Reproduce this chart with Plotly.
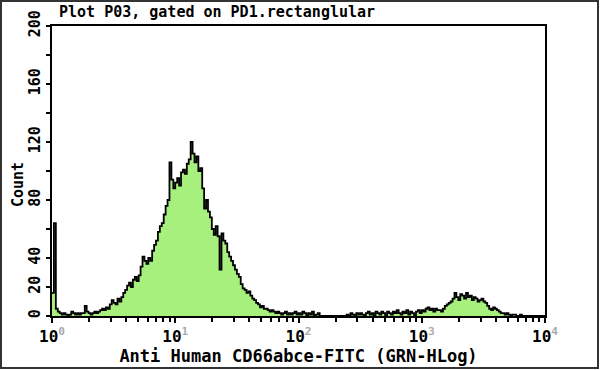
import plotly.graph_objects as go

# 256 log channels over 4 decades (10^0 .. 10^4)
counts = [
    16, 64, 5, 3, 2, 1, 2, 1, 0, 1, 3, 2, 1, 2, 1, 2,
    2, 7, 3, 2, 1, 2, 3, 2, 3, 4, 5, 4, 6, 5, 8, 11,
    9, 8, 12, 10, 13, 16, 18, 21, 23, 20, 25, 27, 24, 28, 34, 41,
    38, 36, 40, 38, 45, 49, 52, 58, 62, 64, 70, 76, 80, 106, 94, 88,
    92, 95, 90, 99, 101, 98, 105, 108, 120, 112, 106, 110, 100, 102, 88, 74,
    80, 72, 68, 60, 56, 62, 55, 32, 57, 52, 50, 44, 41, 38, 35, 32,
    29, 27, 22, 19, 18, 16, 17, 14, 12, 11, 9, 8, 6, 7, 5, 5,
    4, 3, 4, 3, 2, 3, 2, 1, 2, 3, 1, 2, 1, 2, 3, 1,
    2, 1, 3, 2, 0, 2, 1, 3, 0, 1, 2, 0, 0, 0, 0, 0,
    0, 0, 0, 0, 0, 0, 0, 0, 0, 1, 0, 2, 1, 0, 2, 1,
    2, 1, 0, 2, 3, 1, 2, 0, 3, 2, 1, 3, 2, 0, 3, 2,
    1, 3, 2, 4, 2, 1, 3, 2, 4, 1, 3, 2, 0, 3, 4, 2,
    4, 3, 5, 6, 4, 5, 3, 5, 4, 4, 3, 5, 7, 8, 9, 10,
    12, 16, 13, 11, 15, 14, 12, 16, 13, 14, 11, 13, 12, 10, 11, 12,
    10, 9, 7, 5, 4, 6, 5, 4, 3, 2, 2, 1, 2, 1, 0, 1,
    1, 0, 0, 1, 0, 0, 0, 0, 0, 0, 0, 0, 0, 0, 0, 0,
]
n_channels = len(counts)
decades = 4

x_tickvals = [1, 10, 100, 1000, 10000]
x_ticktext = ["10<sup><span style='color:#aaa'>%d</span></sup>" % k for k in range(5)]
y_tickvals = [0, 20, 40, 80, 120, 160, 200]
y_ticktext = ["0", "20", "40", "80", "120", "160", "200"]
y_minor_vals = [60, 100, 140, 180]

title_text = "Plot P03, gated on PD1.rectanglular"
x_title = "Anti Human CD66abce-FITC (GRN-HLog)"
y_title = "Count"

# bin edges on the log scale
edges = [10 ** (decades * i / n_channels) for i in range(n_channels + 1)]
xs = edges
ys = counts + [counts[-1]]

# minor log ticks
minor_vals = []
for k in range(4):
    for m in range(2, 10):
        minor_vals.append(m * 10 ** k)

fig = go.Figure()
fig.add_trace(go.Scatter(
    x=xs, y=ys, mode="lines", line_shape="hv",
    line=dict(color="black", width=1.8),
    fill="tozeroy", fillcolor="#a8f07e",
    hoverinfo="skip", showlegend=False,
))

W, H = 600, 370
L, R, T, B = 52, 55, 26, 54
pw, ph = W - L - R, H - T - B

font = "DejaVu Sans Mono"
fig.update_layout(
    width=W, height=H,
    margin=dict(l=L, r=R, t=T, b=B, pad=0, autoexpand=False),
    paper_bgcolor="white", plot_bgcolor="white",
    font=dict(family=font, color="black", size=14, weight="bold"),
    annotations=[
        dict(text=title_text, x=(57 - L) / pw, y=1 + (T - 12) / ph,
             xref="paper", yref="paper", xanchor="left", yanchor="middle",
             showarrow=False, font=dict(size=15, family=font, color="black", weight="bold")),
        dict(text=y_title, x=(18 - L) / pw, y=(H - B - 185) / ph,
             xref="paper", yref="paper", xanchor="center", yanchor="middle",
             textangle=-90, showarrow=False,
             font=dict(size=15, family=font, color="black", weight="bold")),
    ],
    shapes=[
        dict(type="rect", xref="paper", yref="paper",
             x0=(1 - L) / pw, x1=(W - 2 - L) / pw,
             y0=-(B - 2) / ph, y1=1 + (T - 1) / ph,
             line=dict(color="#333", width=2), layer="below"),
    ],
)

fig.update_xaxes(
    type="log", range=[0, 4], automargin=False,
    tickvals=x_tickvals, ticktext=x_ticktext,
    ticks="outside", ticklen=5, tickwidth=1.5, tickcolor="black",
    minor=dict(tickvals=minor_vals, ticks="outside", ticklen=4, tickwidth=1.5, tickcolor="black"),
    showline=True, linewidth=2, linecolor="black", mirror=True,
    showgrid=False, zeroline=False,
    tickfont=dict(size=16, family=font, weight="bold"),
    title=dict(text=x_title, font=dict(size=17, family=font, weight="bold"), standoff=2),
)
fig.update_yaxes(
    range=[0, 200], automargin=False,
    tickvals=y_tickvals, ticktext=y_ticktext, tickangle=-90,
    ticks="outside", ticklen=4, tickwidth=1.5, tickcolor="black",
    minor=dict(tickvals=y_minor_vals, ticks="outside", ticklen=4, tickwidth=1.5, tickcolor="black"),
    showline=True, linewidth=2, linecolor="black", mirror=True,
    showgrid=False, zeroline=False,
    tickfont=dict(size=15, family=font, weight="bold"),
)

fig.write_html("out.html", config={"displayModeBar": False},
               post_script="document.body.style.margin='0';")
